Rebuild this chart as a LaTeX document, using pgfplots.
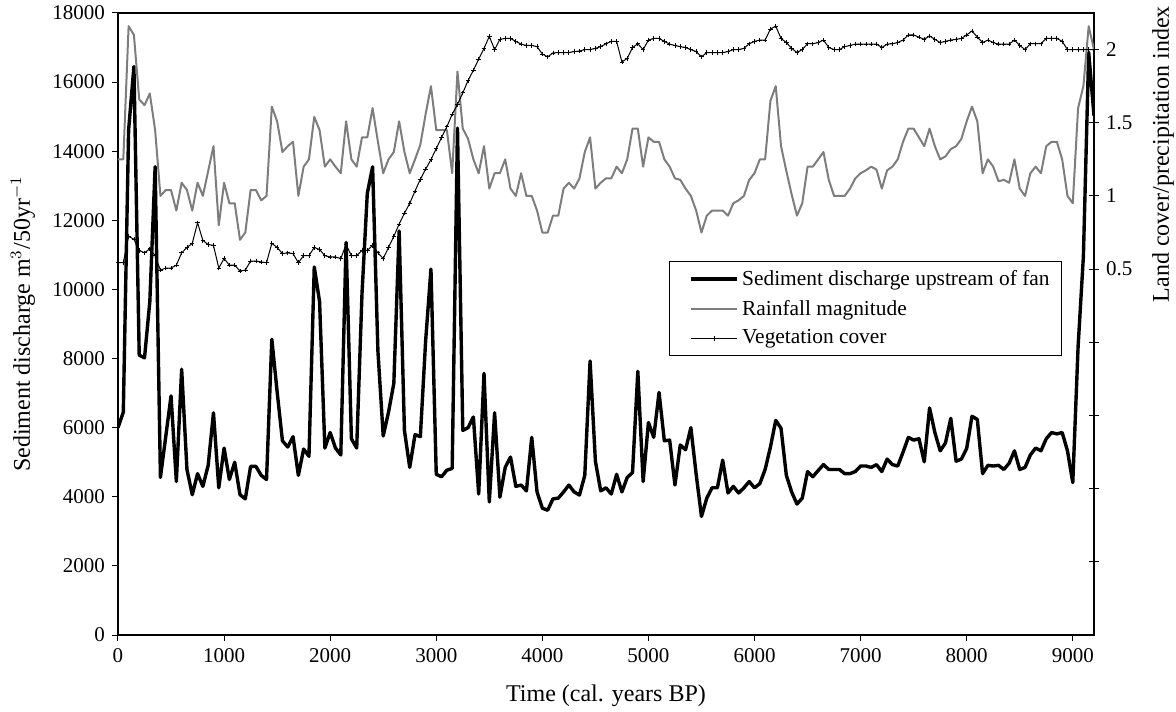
\documentclass[border=0pt,10pt]{standalone}
\usepackage{fontspec}
\setmainfont{Liberation Serif}
\usepackage{pgfplots}
\usepackage{pgfplotstable}
\pgfplotsset{compat=1.18}
\definecolor{rain}{RGB}{125,125,125}

\pgfplotstableread{
x y
0 6000
50 6450
100 14615
150 16450
200 8100
250 8020
300 9650
350 13550
400 4560
450 5740
500 6920
550 4440
600 7690
650 4790
700 4060
750 4670
800 4300
850 4910
900 6430
950 4260
1000 5410
1050 4500
1100 5000
1150 4060
1200 3940
1250 4880
1300 4880
1350 4620
1400 4500
1450 8560
1500 7040
1550 5620
1600 5440
1650 5740
1700 4620
1750 5380
1800 5170
1850 10650
1900 9650
1950 5410
2000 5860
2050 5410
2100 5210
2150 11360
2200 5680
2250 5410
2300 9880
2350 12780
2400 13550
2450 8220
2500 5760
2550 6450
2600 7280
2650 11690
2700 5920
2750 4850
2800 5800
2850 5740
2900 8520
2950 10590
3000 4650
3050 4580
3100 4770
3150 4820
3200 14670
3250 5920
3300 6000
3350 6310
3400 4080
3450 7570
3500 3850
3550 6430
3600 3990
3650 4850
3700 5150
3750 4300
3800 4340
3850 4170
3900 5720
3950 4140
4000 3670
4050 3610
4100 3940
4150 3960
4200 4140
4250 4340
4300 4140
4350 4050
4400 4620
4450 7930
4500 5030
4550 4170
4600 4260
4650 4080
4700 4650
4750 4140
4800 4560
4850 4700
4900 7630
4950 4440
5000 6150
5050 5720
5100 7020
5150 5620
5200 5640
5250 4340
5300 5500
5350 5360
5400 6000
5450 4650
5500 3430
5550 3960
5600 4260
5650 4260
5700 5060
5750 4110
5800 4300
5850 4110
5900 4260
5950 4440
6000 4260
6050 4380
6100 4790
6150 5440
6200 6210
6250 5980
6300 4620
6350 4140
6400 3790
6450 3960
6500 4730
6550 4580
6600 4760
6650 4930
6700 4790
6750 4790
6800 4790
6850 4670
6900 4670
6950 4730
7000 4890
7050 4890
7100 4850
7150 4930
7200 4730
7250 5090
7300 4930
7350 4890
7400 5290
7450 5720
7500 5640
7550 5680
7600 5010
7650 6570
7700 5860
7750 5330
7800 5560
7850 6270
7900 5030
7950 5090
8000 5400
8050 6330
8100 6240
8150 4670
8200 4910
8250 4890
8300 4910
8350 4790
8400 4970
8450 5330
8500 4790
8550 4850
8600 5210
8650 5410
8700 5330
8750 5680
8800 5860
8850 5820
8900 5860
8950 5330
9000 4410
9050 8340
9100 10950
9150 16860
9200 15030
}\sediment

\pgfplotstableread{
x y
0 1.25
50 1.25
100 2.16
150 2.10
200 1.66
250 1.62
300 1.70
350 1.45
400 1.00
450 1.04
500 1.04
550 0.90
600 1.09
650 1.04
700 0.90
750 1.09
800 1.00
850 1.17
900 1.34
950 0.80
1000 1.09
1050 0.95
1100 0.95
1150 0.70
1200 0.75
1250 1.04
1300 1.04
1350 0.97
1400 1.00
1450 1.61
1500 1.51
1550 1.30
1600 1.34
1650 1.37
1700 1.00
1750 1.20
1800 1.25
1850 1.54
1900 1.45
1950 1.20
2000 1.25
2050 1.20
2100 1.155
2150 1.51
2200 1.25
2250 1.20
2300 1.40
2350 1.40
2400 1.60
2450 1.37
2500 1.155
2550 1.25
2600 1.30
2650 1.51
2700 1.30
2750 1.155
2800 1.25
2850 1.35
2900 1.56
2950 1.75
3000 1.45
3050 1.45
3100 1.45
3150 1.155
3200 1.85
3250 1.46
3300 1.39
3350 1.25
3400 1.155
3450 1.34
3500 1.05
3550 1.155
3600 1.155
3650 1.25
3700 1.05
3750 1.00
3800 1.155
3850 1.00
3900 1.00
3950 0.90
4000 0.75
4050 0.75
4100 0.865
4150 0.865
4200 1.05
4250 1.09
4300 1.05
4350 1.12
4400 1.30
4450 1.40
4500 1.05
4550 1.09
4600 1.12
4650 1.12
4700 1.20
4750 1.155
4800 1.25
4850 1.46
4900 1.46
4950 1.20
5000 1.40
5050 1.37
5100 1.37
5150 1.25
5200 1.20
5250 1.12
5300 1.11
5350 1.05
5400 1.00
5450 0.90
5500 0.75
5550 0.865
5600 0.90
5650 0.90
5700 0.90
5750 0.865
5800 0.95
5850 0.97
5900 1.00
5950 1.11
6000 1.155
6050 1.25
6100 1.25
6150 1.65
6200 1.75
6250 1.34
6300 1.17
6350 1.01
6400 0.865
6450 0.95
6500 1.20
6550 1.20
6600 1.25
6650 1.30
6700 1.11
6750 1.00
6800 1.00
6850 1.00
6900 1.05
6950 1.12
7000 1.155
7050 1.175
7100 1.20
7150 1.18
7200 1.05
7250 1.175
7300 1.20
7350 1.25
7400 1.37
7450 1.46
7500 1.46
7550 1.40
7600 1.34
7650 1.46
7700 1.34
7750 1.25
7800 1.27
7850 1.32
7900 1.34
7950 1.39
8000 1.51
8050 1.61
8100 1.51
8150 1.155
8200 1.25
8250 1.20
8300 1.10
8350 1.11
8400 1.09
8450 1.25
8500 1.05
8550 1.00
8600 1.155
8650 1.20
8700 1.155
8750 1.34
8800 1.37
8850 1.37
8900 1.25
8950 1.00
9000 0.95
9050 1.60
9100 1.75
9150 2.16
9200 2.00
}\rainfall

\pgfplotstableread{
x y
0 0.544
50 0.544
100 0.724
150 0.704
200 0.628
250 0.611
300 0.639
350 0.592
400 0.493
450 0.507
500 0.507
550 0.527
600 0.611
650 0.648
700 0.676
750 0.817
800 0.696
850 0.668
900 0.662
950 0.507
1000 0.572
1050 0.527
1100 0.527
1150 0.487
1200 0.493
1250 0.555
1300 0.555
1350 0.549
1400 0.544
1450 0.676
1500 0.648
1550 0.606
1600 0.611
1650 0.606
1700 0.544
1750 0.592
1800 0.592
1850 0.648
1900 0.634
1950 0.592
2000 0.583
2050 0.583
2100 0.572
2150 0.668
2200 0.592
2250 0.592
2300 0.628
2350 0.628
2400 0.662
2450 0.611
2500 0.572
2550 0.648
2600 0.724
2650 0.808
2700 0.882
2750 0.949
2800 1.034
2850 1.113
2900 1.183
2950 1.248
3000 1.324
3050 1.400
3100 1.473
3150 1.558
3200 1.625
3250 1.704
3300 1.789
3350 1.859
3400 1.935
3450 2.008
3500 2.090
3550 2.000
3600 2.070
3650 2.076
3700 2.076
3750 2.056
3800 2.037
3850 2.028
3900 2.028
3950 2.020
4000 1.970
4050 1.950
4100 1.977
4150 1.980
4200 1.980
4250 1.980
4300 1.986
4350 1.990
4400 2.000
4450 2.000
4500 2.008
4550 2.020
4600 2.040
4650 2.056
4700 2.056
4750 1.915
4800 1.940
4850 2.014
4900 2.040
4950 2.000
5000 2.065
5050 2.076
5100 2.076
5150 2.056
5200 2.037
5250 2.028
5300 2.020
5350 2.014
5400 2.000
5450 1.986
5500 1.950
5550 1.980
5600 1.980
5650 1.980
5700 1.980
5750 1.986
5800 2.000
5850 2.000
5900 2.008
5950 2.040
6000 2.056
6050 2.065
6100 2.065
6150 2.140
6200 2.160
6250 2.076
6300 2.048
6350 2.008
6400 1.980
6450 2.000
6500 2.040
6550 2.040
6600 2.048
6650 2.065
6700 2.014
6750 2.000
6800 2.000
6850 2.020
6900 2.028
6950 2.037
7000 2.037
7050 2.037
7100 2.037
7150 2.037
7200 2.014
7250 2.037
7300 2.040
7350 2.048
7400 2.065
7450 2.100
7500 2.100
7550 2.085
7600 2.070
7650 2.093
7700 2.070
7750 2.048
7800 2.056
7850 2.065
7900 2.070
7950 2.076
8000 2.100
8050 2.127
8100 2.085
8150 2.048
8200 2.065
8250 2.048
8300 2.037
8350 2.037
8400 2.037
8450 2.065
8500 2.028
8550 2.000
8600 2.040
8650 2.040
8700 2.040
8750 2.076
8800 2.076
8850 2.076
8900 2.056
8950 2.000
9000 2.000
9050 2.000
9100 2.000
9150 2.000
9200 2.000
}\vegetation

\begin{document}
\begin{tikzpicture}
\useasboundingbox (-59pt,-38pt) rectangle (529pt,317.5pt);
\pgfplotsset{
  every axis/.append style={
    scale only axis, width=488pt, height=311pt,
    xmin=0, xmax=9200,
    tick label style={font=\fontsize{10.5}{12}\selectfont},
    label style={font=\fontsize{12}{14}\selectfont},
    tick style={black, line width=0.5pt},
    /pgf/number format/assume math mode=true,
    /pgf/number format/1000 sep={},
    scaled ticks=false,
  },
}
\begin{axis}[
  ymin=0, ymax=18000,
  xtick={0,1000,...,9000},
  ytick={0,2000,...,18000},
  xtick pos=bottom, ytick pos=left,
  tick align=outside,
  major tick length=3pt,
  axis line style={black, line width=0.6pt},
  xlabel={Time (cal. years BP)},
  ylabel={Sediment discharge m$^{3}$/50yr$^{-1}$},
  xlabel style={at={(axis description cs:0.5,-0.098)}, anchor=center},
  ylabel style={at={(axis description cs:-0.0973,0.5)}, anchor=center},
]
\addplot[black, line width=1.7pt, line join=round] table[x=x,y=y] {\sediment};
\end{axis}
\begin{axis}[
  ymin=-2, ymax=2.25,
  axis x line=none,
  axis y line*=right,
  ytick={-1.5,-1,-0.5,0,0.5,1,1.5,2},
  yticklabels={,,,,0.5,1,1.5,2},
  tick align=center,
  major tick length=5pt,
  axis line style={black, line width=0.6pt, -},
  ylabel={Land cover/precipitation index},
  ylabel style={at={(axis description cs:1.0707,0.773)}, anchor=center},
  legend style={at={(axis description cs:0.5645,0.601)}, anchor=north west,
    draw=black, line width=0.5pt, fill=white,
    font=\fontsize{10.7}{12}\selectfont, inner xsep=4.4pt, inner ysep=2.7pt,
    row sep=2.9pt, nodes={inner sep=1.5pt}},
  legend cell align=left,
  legend image code/.code={\path (0pt,0pt); \draw[mark repeat=2,mark phase=2,#1] plot coordinates {(5.75pt,0pt) (17.25pt,0pt) (28.75pt,0pt)};},
]
\addlegendimage{black, line width=1.7pt}
\addlegendentry{Sediment discharge upstream of fan}
\addplot[rain, line width=1pt, line join=round] table[x=x,y=y] {\rainfall};
\addlegendentry{Rainfall magnitude}
\addplot[black, line width=0.5pt, mark=+, mark size=1.1pt, mark options={line width=0.4pt}] table[x=x,y=y] {\vegetation};
\addlegendentry{Vegetation cover}
\end{axis}
\end{tikzpicture}
\end{document}
